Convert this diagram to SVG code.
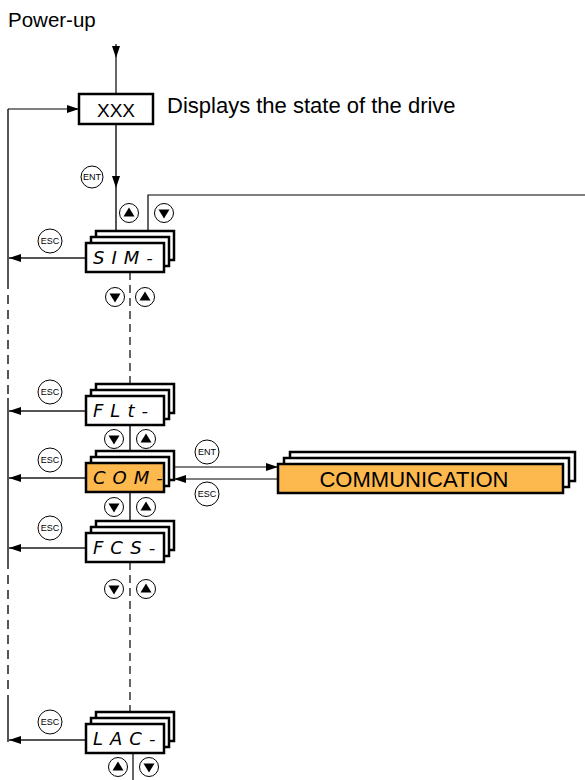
<svg xmlns="http://www.w3.org/2000/svg" width="585" height="780" viewBox="0 0 585 780">
<defs>
<style>
.ln{stroke:#000;stroke-width:1.2;fill:none}
.dl{stroke:#000;stroke-width:1.2;fill:none;stroke-dasharray:8,5}
.gl{stroke:#555;stroke-width:2;fill:none}
.gd{stroke:#555;stroke-width:2;fill:none;stroke-dasharray:9,6}
.box{fill:#fff;stroke:#000;stroke-width:2.5}
.obox{fill:#FDB94E;stroke:#000;stroke-width:2.5}
.seg{font-family:"DejaVu Sans",sans-serif;font-style:italic;font-weight:200;font-size:18px;letter-spacing:7px}
.lbl{font-family:"Liberation Sans",Arial,sans-serif;fill:#000}
.btn{fill:#fff;stroke:#000;stroke-width:1}
.bt{font-family:"Liberation Sans",Arial,sans-serif;font-size:9px;text-anchor:middle}
</style>
<marker id="ah" viewBox="0 0 12 8" refX="12" refY="4" markerWidth="12" markerHeight="8" markerUnits="userSpaceOnUse" orient="auto">
<path d="M0,0 L12,4 L0,8 z" fill="#000"/>
</marker>
<g id="up"><circle r="9.5" class="btn"/><path d="M-5.5,3.5 L5.5,3.5 L0,-5.5 z" fill="#000"/></g>
<g id="dn"><circle r="9.5" class="btn"/><path d="M-5.5,-3.5 L5.5,-3.5 L0,5.5 z" fill="#000"/></g>
</defs>
<rect width="585" height="780" fill="#fff"/>

<text x="8" y="27" class="lbl" font-size="20.5">Power-up</text>
<text x="167" y="113" class="lbl" font-size="22">Displays the state of the drive</text>

<g id="connectors">
<line x1="116" y1="44" x2="116" y2="94" class="ln"/>
<path d="M112,46 L120,46 L116,58 z" fill="#000"/>
<line x1="116" y1="124" x2="116" y2="231" class="gl"/>
<path d="M112,176 L120,176 L116,188 z" fill="#000"/>
<polyline points="148,231 148,195 585,195" class="ln"/>
<line x1="8" y1="109" x2="8" y2="280" class="gl"/>
<line x1="8" y1="280" x2="8" y2="398" class="gd"/>
<line x1="8" y1="398" x2="8" y2="560" class="gl"/>
<line x1="8" y1="560" x2="8" y2="700" class="gd"/>
<line x1="8" y1="700" x2="8" y2="742" class="gl"/>
<line x1="8" y1="109" x2="79" y2="109" class="ln" marker-end="url(#ah)"/>
<line x1="86" y1="258" x2="9" y2="258" class="gl" marker-end="url(#ah)"/>
<line x1="86" y1="411" x2="9" y2="411" class="gl" marker-end="url(#ah)"/>
<line x1="86" y1="478" x2="9" y2="478" class="gl" marker-end="url(#ah)"/>
<line x1="86" y1="548" x2="9" y2="548" class="gl" marker-end="url(#ah)"/>
<line x1="86" y1="740" x2="9" y2="740" class="gl" marker-end="url(#ah)"/>
<line x1="130" y1="272" x2="130" y2="384" class="dl"/>
<line x1="130" y1="425" x2="130" y2="451" class="gl"/>
<line x1="130" y1="492" x2="130" y2="521" class="gl"/>
<line x1="130" y1="562" x2="130" y2="712" class="dl"/>
<line x1="133" y1="753" x2="133" y2="780" class="ln"/>
<line x1="174" y1="467" x2="278" y2="467" class="ln" marker-end="url(#ah)"/>
<line x1="278" y1="479" x2="174" y2="479" class="ln" marker-end="url(#ah)"/>
</g>

<g id="xxx">
<rect x="79" y="94" width="74" height="30" class="box"/>
<text x="116" y="117" class="lbl" font-size="19" text-anchor="middle">XXX</text>
</g>

<g id="sim">
<rect x="96" y="231" width="78" height="29" class="box"/>
<rect x="91" y="237" width="78" height="29" class="box"/>
<rect x="86" y="243" width="78" height="29" class="box"/>
<text x="93" y="264" class="seg">SIM-</text>
</g>

<g id="flt">
<rect x="96" y="384" width="78" height="29" class="box"/>
<rect x="91" y="390" width="78" height="29" class="box"/>
<rect x="86" y="396" width="78" height="29" class="box"/>
<text x="93" y="417" class="seg">FLt-</text>
</g>

<g id="con">
<rect x="96" y="451" width="78" height="29" class="box"/>
<rect x="91" y="457" width="78" height="29" class="box"/>
<rect x="86" y="463" width="78" height="29" class="obox"/>
<text x="93" y="484" class="seg">COM-</text>
</g>

<g id="fcs">
<rect x="96" y="521" width="78" height="29" class="box"/>
<rect x="91" y="527" width="78" height="29" class="box"/>
<rect x="86" y="533" width="78" height="29" class="box"/>
<text x="93" y="554" class="seg">FCS-</text>
</g>

<g id="lac">
<rect x="96" y="712" width="78" height="29" class="box"/>
<rect x="91" y="718" width="78" height="29" class="box"/>
<rect x="86" y="724" width="78" height="29" class="box"/>
<text x="93" y="745" class="seg">LAC-</text>
</g>

<g id="communication">
<rect x="290" y="452" width="285" height="29" class="box"/>
<rect x="284" y="458" width="285" height="29" class="box"/>
<rect x="278" y="464" width="285" height="29" class="obox"/>
<text x="414" y="487" class="lbl" font-size="22" text-anchor="middle">COMMUNICATION</text>
</g>

<g id="buttons">
<g><circle cx="92" cy="177" r="11" class="btn"/><text x="92" y="180" class="bt">ENT</text></g>
<g><circle cx="50" cy="241" r="12" class="btn"/><text x="50" y="244" class="bt">ESC</text></g>
<g><circle cx="50" cy="392" r="12" class="btn"/><text x="50" y="395" class="bt">ESC</text></g>
<g><circle cx="50" cy="460" r="12" class="btn"/><text x="50" y="463" class="bt">ESC</text></g>
<g><circle cx="50" cy="528" r="12" class="btn"/><text x="50" y="531" class="bt">ESC</text></g>
<g><circle cx="50" cy="722" r="12" class="btn"/><text x="50" y="725" class="bt">ESC</text></g>
<g><circle cx="207" cy="452" r="12" class="btn"/><text x="207" y="455" class="bt">ENT</text></g>
<g><circle cx="207" cy="494" r="12" class="btn"/><text x="207" y="497" class="bt">ESC</text></g>
<use href="#up" x="129" y="213"/>
<use href="#dn" x="164" y="213"/>
<use href="#dn" x="115" y="297"/>
<use href="#up" x="145" y="297"/>
<use href="#dn" x="114" y="439"/>
<use href="#up" x="146" y="439"/>
<use href="#dn" x="114" y="507"/>
<use href="#up" x="146" y="507"/>
<use href="#dn" x="114" y="589"/>
<use href="#up" x="146" y="589"/>
<use href="#up" x="118" y="767"/>
<use href="#dn" x="149" y="767"/>
</g>
</svg>
